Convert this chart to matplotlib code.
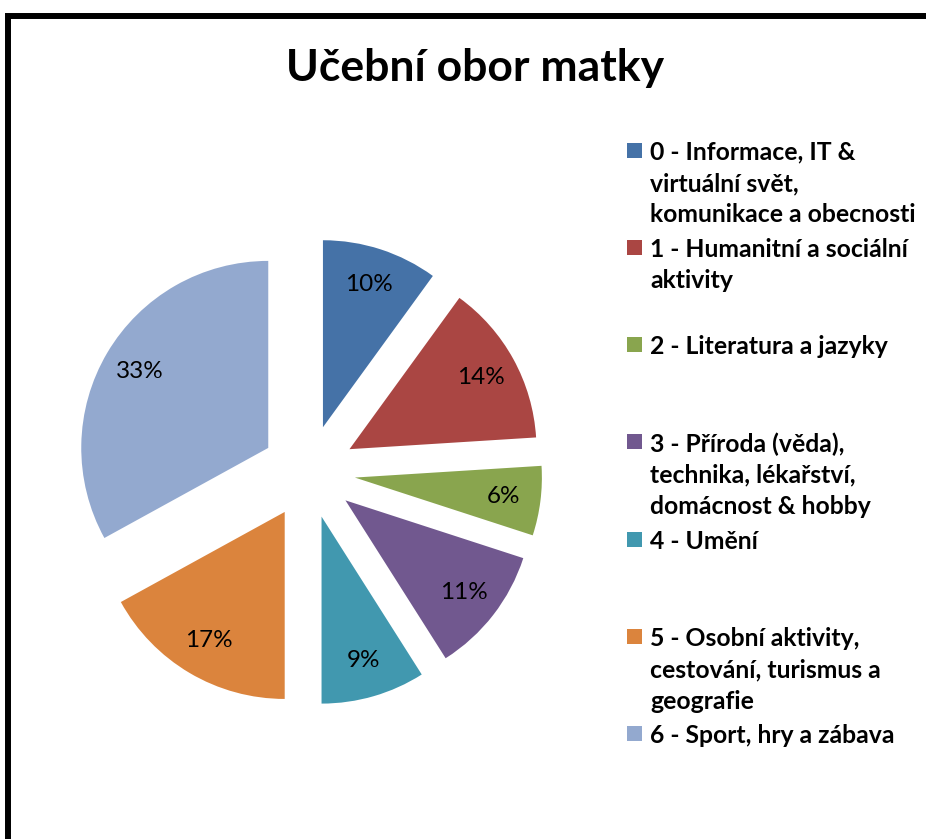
import matplotlib
matplotlib.use("Agg")
import matplotlib.pyplot as plt
from matplotlib.lines import Line2D
from matplotlib.patches import Rectangle

W, H = 926, 839
DPI = 100

title = "Učební obor matky"
categories = [
    "0 - Informace, IT &\nvirtuální svět,\nkomunikace a obecnosti",
    "1 - Humanitní a sociální\naktivity",
    "2 - Literatura a jazyky",
    "3 - Příroda (věda),\ntechnika, lékařství,\ndomácnost & hobby",
    "4 - Umění",
    "5 - Osobní aktivity,\ncestování, turismus a\ngeografie",
    "6 - Sport, hry a zábava",
]
values = [10, 14, 6, 11, 9, 17, 33]
colors = ["#4572A7", "#AA4643", "#89A54E", "#71588F", "#4198AF", "#DB843D", "#93A9CF"]

FONT = "Lato"

fig = plt.figure(figsize=(W / DPI, H / DPI), dpi=DPI)
fig.patch.set_facecolor("white")

# Pie axes: center at (308.5, 471.7) px from top, radius 187 px
cx, cy, r = 308.5, 471.7, 187.0
L = 1.6
S = 2 * L * r
ax = fig.add_axes([(cx - S / 2) / W, ((H - cy) - S / 2) / H, S / W, S / H])
wedges, texts, autotexts = ax.pie(
    values,
    colors=colors,
    startangle=90,
    counterclock=False,
    explode=[0.25] * len(values),
    radius=1.0,
    autopct=lambda p: f"{p:.0f}%",
    pctdistance=0.8,
    wedgeprops=dict(linewidth=0),
    textprops=dict(fontsize=17.5, family=FONT, color="black"),
)
ax.set_xlim(-L, L)
ax.set_ylim(-L, L)
ax.set_aspect("equal")
ax.axis("off")

# Title
fig.text(475 / W, 1 - 68 / H, title, ha="center", va="center",
         fontsize=32, fontweight="bold", family=FONT)

# Legend (manual layout, Excel-like fixed slots)
y0, slot, line_h = 150.0, 97.3, 31.5
for k, (lab, col) in enumerate(zip(categories, colors)):
    yc = y0 + k * slot
    fig.add_artist(Rectangle((627 / W, 1 - (yc + 7.5) / H), 15 / W, 15 / H,
                             transform=fig.transFigure, facecolor=col,
                             edgecolor="none"))
    for j, line in enumerate(lab.split("\n")):
        fig.text(650 / W, 1 - (yc + j * line_h) / H, line, ha="left",
                 va="center_baseline", fontsize=17.8, fontweight="bold",
                 family=FONT)

# Partial outer frame (top and left edges)
fig.add_artist(Line2D([8 / W, 8 / W, 1.01], [-0.01, 1 - 15.5 / H, 1 - 15.5 / H],
                      transform=fig.transFigure, color="black", linewidth=4.3,
                      solid_joinstyle="miter"))

fig.savefig("out.png", dpi=DPI)
